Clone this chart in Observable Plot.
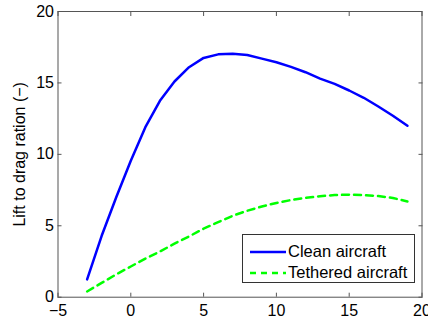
<!DOCTYPE html>
<html>
<head>
<meta charset="utf-8">
<script src="https://cdn.jsdelivr.net/npm/d3@7"></script>
<script src="https://cdn.jsdelivr.net/npm/@observablehq/plot@0.6"></script>
<style>
  html, body { margin: 0; padding: 0; background: #fff; }
  #wrap { position: relative; width: 428px; height: 320px; font-family: "Liberation Sans", Arial, sans-serif; }
  #legend { position: absolute; left: 242px; top: 234px; width: 173px; height: 49px; box-sizing: border-box;
            border: 1px solid #333; background: #fff; padding-top: 6px; }
  .row { display: flex; align-items: center; height: 21px; font-size: 16.5px; color: #000; }
  .row svg { margin-left: 7px; margin-right: 2px; }
</style>
</head>
<body>
<div id="wrap"></div>
<script>
const angles = [-3,-2,-1,0,1,2,3,4,5,6,7,8,9,10,11,12,13,14,15,16,17,18,19];
const cleanLD = [1.25,4.3,7.0,9.55,11.9,13.75,15.1,16.1,16.75,17.0,17.05,16.95,16.7,16.45,16.12,15.75,15.3,14.93,14.47,13.96,13.35,12.7,12.0];
const tetheredLD = [0.4,1.0,1.6,2.15,2.7,3.2,3.75,4.25,4.8,5.25,5.7,6.05,6.35,6.6,6.8,6.95,7.07,7.15,7.18,7.15,7.08,6.95,6.7];
const xTicks = [-5,0,5,10,15,20];
const yTicks = [0,5,10,15,20];
const seriesNames = ["Clean aircraft", "Tethered aircraft"];
const yLabel = "Lift to drag ration (\u2212)";

const clean = angles.map((a, i) => ({a, v: cleanLD[i]}));
const tethered = angles.map((a, i) => ({a, v: tetheredLD[i]}));

const frameColor = "#555";
const chart = Plot.plot({
  width: 428,
  height: 320,
  marginLeft: 57.5,
  marginRight: 6.5,
  marginTop: 11,
  marginBottom: 23.3,
  style: { fontFamily: "'Liberation Sans', Arial, sans-serif", fontSize: "16px", color: "#000", background: "#fff" },
  x: { domain: [-5, 20] },
  y: { domain: [0, 20] },
  marks: [
    Plot.frame({ stroke: frameColor }),
    Plot.axisX({ anchor: "bottom", ticks: xTicks, tickSize: 0, tickPadding: 7, tickFormat: d => d < 0 ? "\u2212" + Math.abs(d) : String(d), label: null }),
    Plot.axisX({ anchor: "bottom", ticks: xTicks, tickSize: -4, stroke: frameColor, tickFormat: () => "", label: null }),
    Plot.axisX({ anchor: "top", ticks: xTicks, tickSize: -4, stroke: frameColor, tickFormat: () => "", label: null }),
    Plot.axisY({ anchor: "left", ticks: yTicks, tickSize: 0, tickPadding: 4, label: yLabel, labelAnchor: "center", labelArrow: "none", labelOffset: 44 }),
    Plot.axisY({ anchor: "left", ticks: yTicks, tickSize: -4, stroke: frameColor, tickFormat: () => "", label: null }),
    Plot.axisY({ anchor: "right", ticks: yTicks, tickSize: -4, stroke: frameColor, tickFormat: () => "", label: null }),
    Plot.line(clean, { x: "a", y: "v", stroke: "#0000ff", strokeWidth: 2.5 }),
    Plot.line(tethered, { x: "a", y: "v", stroke: "#00ff00", strokeWidth: 2.5, strokeDasharray: "7,5" })
  ]
});
const wrap = document.getElementById("wrap");
wrap.appendChild(chart);

const legend = document.createElement("div");
legend.id = "legend";
const styles = [{ stroke: "#0000ff", dash: null }, { stroke: "#00ff00", dash: "6,5" }];
seriesNames.forEach((name, i) => {
  const row = document.createElement("div");
  row.className = "row";
  const svg = d3.create("svg").attr("width", 36).attr("height", 6);
  svg.append("line").attr("x1", 0).attr("x2", 36).attr("y1", 3).attr("y2", 3)
    .attr("stroke", styles[i].stroke).attr("stroke-width", 2.5)
    .attr("stroke-dasharray", styles[i].dash);
  row.appendChild(svg.node());
  const span = document.createElement("span");
  span.textContent = name;
  row.appendChild(span);
  legend.appendChild(row);
});
wrap.appendChild(legend);
</script>
</body>
</html>
